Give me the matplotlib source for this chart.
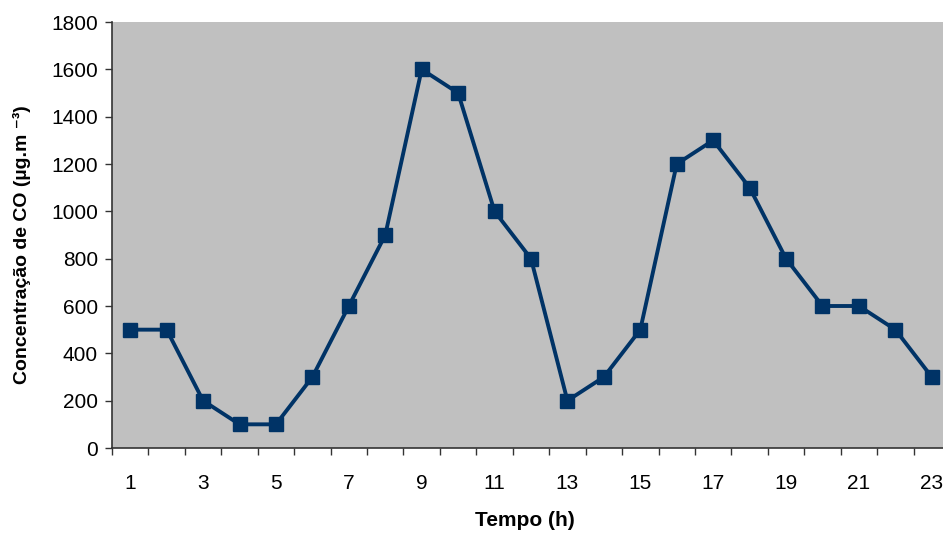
import matplotlib
matplotlib.use("Agg")
import matplotlib.pyplot as plt
import numpy as np

plt.rcParams['font.family'] = ['Liberation Sans', 'DejaVu Sans']

hours = list(range(1, 24))
co_conc = [500, 500, 200, 100, 100, 300, 600, 900, 1600, 1500, 1000, 800,
           200, 300, 500, 1200, 1300, 1100, 800, 600, 600, 500, 300]
x_tick_labels = [1, 3, 5, 7, 9, 11, 13, 15, 17, 19, 21, 23]
y_ticks = list(range(0, 1801, 200))

fig = plt.figure(figsize=(9.43, 5.36), dpi=100)
ax = fig.add_axes([112 / 943, 88 / 536, 838 / 943, 426 / 536])
ax.set_facecolor('#C0C0C0')

ax.plot(hours, co_conc, color='#003366', lw=2.8, marker='s', ms=10.5,
        markerfacecolor='#003366', markeredgecolor='#003366', clip_on=False, zorder=3)

ax.set_xlim(0.5, 23.5)
ax.set_ylim(0, 1800)
ax.set_yticks(y_ticks)
ax.set_xticks(x_tick_labels)
ax.set_xticklabels([str(v) for v in x_tick_labels])
ax.set_xticks(np.arange(0.5, 24.0, 1.0), minor=True)

ax.tick_params(axis='x', which='major', length=0, pad=19, labelsize=15)
ax.tick_params(axis='x', which='minor', length=5, width=1, color='#333333', direction='out')
ax.tick_params(axis='y', which='major', length=5, width=1, color='#333333',
               direction='out', labelsize=15, pad=5)

for side in ('top', 'right'):
    ax.spines[side].set_visible(False)
for side in ('left', 'bottom'):
    ax.spines[side].set_color('#333333')
    ax.spines[side].set_linewidth(1.2)

fig.text(22 / 943, 1 - 245 / 536, 'Concentração de CO (µg.m \u207b\u00b3)',
         rotation=90, ha='center', va='center', fontsize=14, fontweight='bold')
fig.text(525 / 943, 1 - 521 / 536, 'Tempo (h)', ha='center', va='center',
         fontsize=15, fontweight='bold')

fig.savefig('out.png', dpi=100, facecolor='white')
